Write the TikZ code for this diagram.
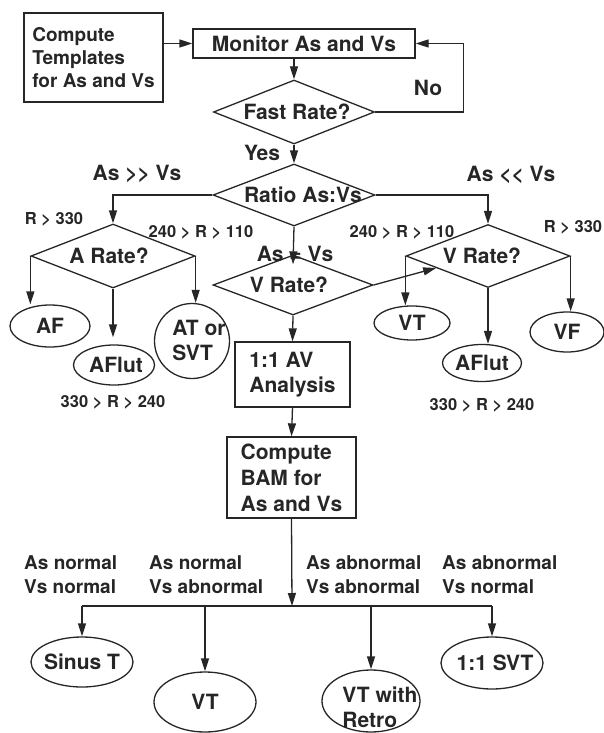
\documentclass[tikz,border=0pt]{standalone}
\usepackage{fontspec}
\setmainfont{TeX Gyre Heros}
\usetikzlibrary{shapes.geometric,arrows.meta}
\tikzset{
  ink/.style={draw=black!85, line width=1.3pt},
  every node/.style={font=\bfseries\fontsize{21}{25}\selectfont, inner sep=0pt, text=black!85},
  box/.style={ink, rectangle, align=left},
  dia/.style={ink, diamond},
  ell/.style={ink, ellipse},
  arr/.style={ink, -{Triangle[length=13pt,width=8pt]}},
  ln/.style={ink},
  small/.style={font=\bfseries\fontsize{16.5}{19}\selectfont},
  lab/.style={font=\bfseries\fontsize{19}{24}\selectfont, align=left, anchor=west},
  txt/.style={align=left, font=\bfseries\fontsize{21}{25}\selectfont}
}
\begin{document}
\begin{tikzpicture}[x=1pt,y=-1pt]
\useasboundingbox (0,0) rectangle (604,733);
% boxes
\node[box, minimum width=139, minimum height=89, font=\bfseries\fontsize{19}{23}\selectfont] (comp) at (93.5,57.5) {Compute\\Templates\\for As and Vs};
\node[box, minimum width=222, minimum height=29] (mon) at (304,43.5) {Monitor As and Vs};
\node[box, minimum width=115, minimum height=65, font=\bfseries\fontsize{21}{25}\selectfont] (av) at (292.5,374.5) {1:1 AV\\Analysis};
\node[box, minimum width=129, minimum height=81, font=\bfseries\fontsize{21}{26}\selectfont] (bam) at (291.5,477.5) {Compute\\BAM for\\As and Vs};
% diamonds
\node[dia, minimum width=161, minimum height=64] (fast) at (294,112) {\makebox[0pt]{\kern6pt Fast Rate?}};
\node[dia, minimum width=162, minimum height=62] (ratio) at (294,195) {\makebox[0pt]{\kern18pt Ratio As:Vs}};
\node[dia, minimum width=164, minimum height=64] (arate) at (113,256) {\makebox[0pt]{\kern-8pt A Rate?}};
\node[dia, minimum width=160, minimum height=60] (vrate) at (293,285) {\makebox[0pt]{\kern-8pt V Rate?}};
\node[dia, minimum width=164, minimum height=63] (vrate2) at (488,256) {\makebox[0pt]{\kern-12pt V Rate?}};
% ellipses
\node[ell, minimum width=80, minimum height=42] (af) at (50,326) {\makebox[0pt]{AF}};
\node[ell, minimum width=81, minimum height=40] (aflut1) at (114,365) {\makebox[0pt]{\kern4pt AFlut}};
\node[ell, minimum width=75, minimum height=75] (atsvt) at (192,341) {};
\node[txt] (atsvtt) at (199,340) {AT or\\SVT};
\node[ell, minimum width=76, minimum height=34] (vt1) at (412,323) {\makebox[0pt]{VT}};
\node[ell, minimum width=79, minimum height=37] (aflut2) at (482,363) {\makebox[0pt]{AFlut}};
\node[ell, minimum width=74, minimum height=40] (vf) at (567,332) {\makebox[0pt]{VF}};
\node[ell, minimum width=102, minimum height=50] (sinus) at (82,662) {\makebox[0pt]{Sinus T}};
\node[ell, minimum width=102, minimum height=60] (vt2) at (205,702) {\makebox[0pt]{VT}};
\node[ell, minimum width=98, minimum height=62] (retro) at (371,701) {};
\node[txt] (retrot) at (380,707) {VT with\\Retro};
\node[ell, minimum width=102, minimum height=52] (svt) at (492,663) {\makebox[0pt]{\kern6pt 1:1 SVT}};
% labels
\node (no) at (428,88) {No};
\node (yes) at (262,153) {Yes};
\node (gg) at (137,174) {As >{}> Vs};
\node (ll) at (511,175) {As <{}< Vs};
\node (eq) at (295,254) {As = Vs};
\node[small] (r1) at (54,219) {R > 330};
\node[small] (r2) at (201,232) {240 > R > 110};
\node[small] (r3) at (113,402) {330 > R > 240};
\node[small] (r4) at (402,232) {240 > R > 110};
\node[small] (r5) at (573,227) {R > 330};
\node[small] (r6) at (482,405) {330 > R > 240};
\node[lab] (l1) at (24,575) {As normal\\Vs normal};
\node[lab] (l2) at (149,575) {As normal\\Vs abnormal};
\node[lab] (l3) at (306,575) {As abnormal\\Vs abnormal};
\node[lab] (l4) at (442,575) {As abnormal\\Vs normal};
% connectors
\draw[arr] (mon.west -| comp.east) -- (mon.west);
\draw[arr] (mon.south -| fast.north) -- (fast.north);
\draw[arr] (fast.east) -- ++(88,0) |- (mon.east);
\draw[arr] (fast.south) -- (ratio.north);
\draw[arr] (ratio.west) -| (arate.north);
\draw[arr] (ratio.east) -| (vrate2.north);
\draw[arr] (ratio.south) -- ([yshift=-10pt]vrate.north);
\draw[arr] (arate.west) -- (arate.west |- af.north);
\draw[arr, shorten >=7pt] (arate.south) -- (arate.south |- aflut1.north);
\draw[arr] (arate.east) -- (arate.east |- atsvt.north);
\draw[arr] (vrate2.west) -- (vrate2.west |- vt1.north);
\draw[arr] (vrate2.south) -- (vrate2.south |- aflut2.north);
\draw[arr] (vrate2.east) -- (vrate2.east |- vf.north);
\draw[arr] (vrate.east) -- (vrate2.193);
\draw[arr] (vrate.south) -- (av.north);
\draw[arr] (av.south) -- (bam.north);
\coordinate (bus) at (292,606);
\draw[ln] (sinus.north |- bus) -- (svt.north |- bus);
\draw[arr] (bam.south) -- (bus);
\draw[arr] (sinus.north |- bus) -- (sinus.north);
\draw[arr] (vt2.north |- bus) -- (vt2.north);
\draw[arr] (retro.north |- bus) -- (retro.north);
\draw[arr] (svt.north |- bus) -- (svt.north);
\end{tikzpicture}
\end{document}
